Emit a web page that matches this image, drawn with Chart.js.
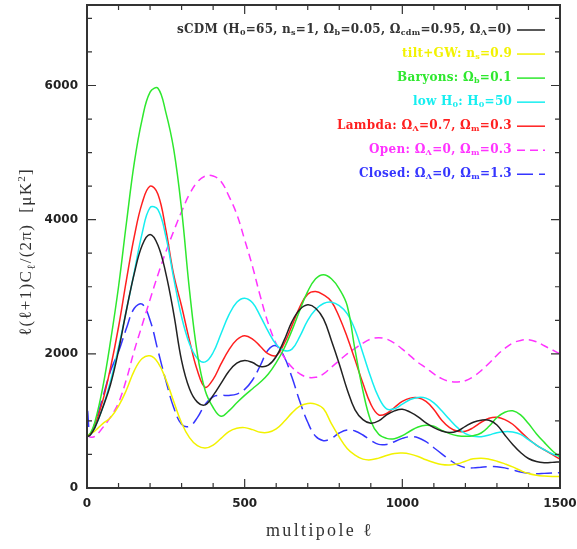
<!DOCTYPE html>
<html>
<head>
<meta charset="utf-8">
<script src="https://cdn.jsdelivr.net/npm/chart.js@4/dist/chart.umd.min.js"></script>
<style>
html, body { margin: 0; padding: 0; background: #fff; }
</style>
</head>
<body>
<canvas id="ChartCMB" width="577" height="549"></canvas>
<script>
// multipole values (x) shared by all the models
var ell = [2, 10, 25, 50, 75, 100, 125, 150, 175, 200, 225, 250, 275, 300, 325, 350, 375, 400, 425, 450,
    475, 500, 525, 550, 575, 600, 625, 650, 675, 700, 725, 750, 775, 800, 825, 850, 875, 900, 925, 950,
    975, 1000, 1025, 1050, 1075, 1100, 1125, 1150, 1175, 1200, 1225, 1250, 1275, 1300, 1325, 1350, 1375, 1400, 1425, 1450,
    1475, 1500];

// l(l+1)C_l/(2pi) in uK^2
var sCDM = [770, 790, 900, 1200, 1550, 2050, 2650, 3200, 3620, 3780, 3620, 3200, 2600, 1900, 1480, 1280, 1240, 1380, 1560, 1740,
    1860, 1900, 1870, 1810, 1830, 1960, 2200, 2480, 2660, 2730, 2680, 2520, 2200, 1850, 1470, 1165, 1020, 966, 1000, 1090,
    1150, 1175, 1130, 1060, 970, 900, 850, 826, 850, 920, 980, 1010, 1010, 940, 790, 650, 530, 440, 395, 378,
    382, 393];
var tiltGW = [770, 800, 850, 960, 1050, 1220, 1460, 1750, 1930, 1970, 1870, 1620, 1290, 970, 750, 630, 595, 640, 740, 840,
    890, 900, 870, 830, 830, 880, 990, 1120, 1220, 1260, 1250, 1180, 960, 760, 590, 490, 430, 420, 445, 485,
    515, 520, 505, 470, 420, 380, 350, 343, 360, 400, 435, 445, 430, 400, 360, 315, 260, 215, 190, 178,
    172, 170];
var baryons = [790, 810, 980, 1500, 2200, 3000, 3950, 4850, 5500, 5900, 5960, 5600, 5050, 4150, 2950, 2000, 1450, 1200, 1070, 1150,
    1270, 1380, 1480, 1580, 1700, 1870, 2080, 2350, 2650, 2930, 3120, 3180, 3120, 2970, 2720, 2060, 1450, 1000, 800, 740,
    735, 780, 850, 910, 935, 920, 860, 810, 780, 770, 780, 820, 920, 1050, 1130, 1150, 1090, 960, 810, 680,
    560, 465];
var lowH0 = [770, 790, 900, 1200, 1600, 2100, 2650, 3220, 3800, 4180, 4150, 3750, 3130, 2550, 2150, 1930, 1880, 2020, 2300, 2580,
    2770, 2830, 2760, 2560, 2330, 2140, 2050, 2070, 2260, 2500, 2660, 2750, 2770, 2720, 2600, 2360, 2010, 1650, 1350, 1180,
    1180, 1250, 1320, 1350, 1340, 1270, 1150, 1020, 900, 810, 770, 765, 790, 825, 840, 835, 800, 720, 640, 570,
    510, 467];
var lambdaModel = [770, 795, 930, 1300, 1800, 2400, 3100, 3750, 4250, 4500, 4380, 3850, 3180, 2710, 2200, 1750, 1500, 1620, 1850, 2060,
    2210, 2270, 2220, 2110, 2000, 1975, 2150, 2420, 2700, 2890, 2930, 2880, 2780, 2550, 2250, 1910, 1560, 1250, 1090, 1110,
    1200, 1290, 1340, 1345, 1290, 1170, 1010, 900, 845, 845, 900, 980, 1040, 1055, 1020, 950, 840, 730, 640, 570,
    500, 430];
var openModel = [790, 760, 770, 900, 1060, 1270, 1620, 2050, 2430, 2810, 3180, 3520, 3830, 4120, 4380, 4560, 4650, 4650, 4570, 4350,
    4080, 3700, 3300, 2850, 2450, 2150, 1950, 1800, 1700, 1650, 1650, 1700, 1800, 1900, 2000, 2080, 2160, 2220, 2240, 2220,
    2160, 2070, 1970, 1870, 1790, 1700, 1630, 1590, 1580, 1600, 1660, 1750, 1860, 1980, 2080, 2160, 2200, 2210, 2180, 2120,
    2060, 2000];
var closedModel = [1150, 800, 960, 1350, 1750, 2030, 2380, 2680, 2740, 2500, 2050, 1600, 1200, 950, 920, 1050, 1250, 1360, 1380, 1380,
    1400, 1470, 1610, 1830, 2060, 2120, 1960, 1650, 1290, 980, 770, 706, 740, 820, 865, 850, 790, 710, 650, 650,
    690, 740, 765, 750, 690, 600, 510, 420, 345, 305, 300, 310, 318, 318, 300, 270, 240, 220, 212, 218,
    225, 229];

// tick marks (every one gets an inward mark) and the ones that carry a label
var xTickMarks = [0, 100, 200, 300, 400, 500, 600, 700, 800, 900, 1000, 1100, 1200, 1300, 1400, 1500];
var yTickMarks = [0, 500, 1000, 1500, 2000, 2500, 3000, 3500, 4000, 4500, 5000, 5500, 6000, 6500, 7000];
var xTicks = [0, 500, 1000, 1500];
var yTicks = [0, 2000, 4000, 6000];

// legend rows: text pieces, a piece with sub:true is drawn as a subscript
var legendRows = [
    [{ t: 'sCDM (H' }, { t: '0', sub: true }, { t: '=65, n' }, { t: 's', sub: true }, { t: '=1, \u03A9' }, { t: 'b', sub: true },
     { t: '=0.05, \u03A9' }, { t: 'cdm', sub: true }, { t: '=0.95, \u03A9' }, { t: '\u039B', sub: true }, { t: '=0)' }],
    [{ t: 'tilt+GW: n' }, { t: 's', sub: true }, { t: '=0.9' }],
    [{ t: 'Baryons: \u03A9' }, { t: 'b', sub: true }, { t: '=0.1' }],
    [{ t: 'low H' }, { t: '0', sub: true }, { t: ': H' }, { t: '0', sub: true }, { t: '=50' }],
    [{ t: 'Lambda: \u03A9' }, { t: '\u039B', sub: true }, { t: '=0.7, \u03A9' }, { t: 'm', sub: true }, { t: '=0.3' }],
    [{ t: 'Open: \u03A9' }, { t: '\u039B', sub: true }, { t: '=0, \u03A9' }, { t: 'm', sub: true }, { t: '=0.3' }],
    [{ t: 'Closed: \u03A9' }, { t: '\u039B', sub: true }, { t: '=0, \u03A9' }, { t: 'm', sub: true }, { t: '=1.3' }]
];
var legendWidths = [335, 110, 115, 99, 175, 143, 153];

function MakePoints(values) {
    var points = [];
    var index = 0;
    while (index < ell.length) {
        points.push({ x: ell[index], y: values[index] });
        index++;
    }
    return points;
}

function MakeTicks(values) {
    var ticks = [];
    var index = 0;
    while (index < values.length) {
        ticks.push({ value: values[index] });
        index++;
    }
    return ticks;
}

function Series(values, color, dash) {
    return {
        data: MakePoints(values),
        borderColor: color,
        textColor: color,
        borderWidth: 1.5,
        borderDash: dash || [],
        pointRadius: 0,
        fill: false,
        tension: 0.4
    };
}

// draws a row of text pieces (with sub/superscripts), stretched by letter spacing to a given width
function DrawRich(ctx, pieces, x, y, align, font, smallFont, width, shift) {
    ctx.letterSpacing = '0px';
    var natural = 0, count = 0;
    pieces.forEach(function (p) {
        ctx.font = p.sub || p.sup ? smallFont : font;
        natural += ctx.measureText(p.t).width;
        count += p.t.length;
    });
    var ls = width ? (width - natural) / count : 0;
    var total = natural + ls * count;
    var cx = align === 'right' ? x - total : (align === 'center' ? x - total / 2 : x);
    ctx.letterSpacing = ls + 'px';
    ctx.textAlign = 'left';
    ctx.textBaseline = 'middle';
    pieces.forEach(function (p) {
        ctx.font = p.sub || p.sup ? smallFont : font;
        var dy = p.sub ? shift : (p.sup ? -shift : 0);
        ctx.fillText(p.t, cx, y + dy);
        cx += ctx.measureText(p.t).width;
    });
    ctx.letterSpacing = '0px';
}

var frameTicks = {
    id: 'frameTicks',
    afterDatasetsDraw: function (chart) {
        var ctx = chart.ctx, a = chart.chartArea;
        var xs = chart.scales.x, ys = chart.scales.y;
        ctx.save();
        ctx.setLineDash([]);
        ctx.strokeStyle = '#333';
        ctx.lineWidth = 1.2;
        ctx.beginPath();
        xs.ticks.forEach(function (t) {
            var px = xs.getPixelForValue(t.value);
            var len = t.value % 500 === 0 ? 9 : 5;
            ctx.moveTo(px, a.bottom); ctx.lineTo(px, a.bottom - len);
            ctx.moveTo(px, a.top); ctx.lineTo(px, a.top + len);
        });
        ys.ticks.forEach(function (t) {
            var py = ys.getPixelForValue(t.value);
            var len = t.value % 2000 === 0 ? 9 : 5;
            ctx.moveTo(a.left, py); ctx.lineTo(a.left + len, py);
            ctx.moveTo(a.right, py); ctx.lineTo(a.right - len, py);
        });
        ctx.stroke();
        ctx.lineWidth = 2;
        ctx.strokeRect(a.left, a.top, a.right - a.left, a.bottom - a.top);
        ctx.restore();
    },
    afterDraw: function (chart) {
        var ctx = chart.ctx;
        ctx.save();
        // axis titles
        ctx.fillStyle = '#333';
        DrawRich(ctx, [{ t: 'multipole \u2113' }], 320, 531, 'center', '18px "Liberation Serif"', '12px "Liberation Serif"', 108, 0);
        ctx.translate(27, 252);
        ctx.rotate(-Math.PI / 2);
        DrawRich(ctx, [{ t: '\u2113(\u2113+1)C' }, { t: '\u2113', sub: true }, { t: '/(2\u03C0)  [\u03BCK' }, { t: '2', sup: true }, { t: ']' }],
            0, 0, 'center', '17px "Liberation Serif"', '11px "Liberation Serif"', 168, 5);
        ctx.restore();

        // legend
        ctx.save();
        chart.data.datasets.forEach(function (ds, i) {
            var yc = 29.5 + i * 24.05;
            ctx.fillStyle = i === 0 ? '#333' : ds.textColor;
            DrawRich(ctx, legendRows[i], 512, yc, 'right', 'bold 12px "DejaVu Serif"', 'bold 8px "DejaVu Serif"',
                legendWidths[i], 3.5);
            ctx.strokeStyle = ds.borderColor;
            ctx.lineWidth = 1.5;
            ctx.setLineDash(ds.borderDash);
            ctx.beginPath();
            ctx.moveTo(517, yc + 0.5);
            ctx.lineTo(545, yc + 0.5);
            ctx.stroke();
        });
        ctx.restore();
    }
};

var ctx = document.getElementById('ChartCMB').getContext('2d');

var graph = new Chart(ctx, {
    type: 'line',
    data: {
        datasets: [
            Series(sCDM, '#222222'),
            Series(tiltGW, '#f2f200'),
            Series(baryons, '#2ee82e'),
            Series(lowH0, '#16eef0'),
            Series(lambdaModel, '#ff1f1f'),
            Series(openModel, '#ff33ff', [8, 5]),
            Series(closedModel, '#3535ff', [16, 6])
        ]
    },
    plugins: [frameTicks],
    options: {
        responsive: false,
        animation: false,
        devicePixelRatio: 1,
        layout: { padding: { top: 5, right: 17, left: 0, bottom: 0 } },
        plugins: {
            legend: { display: false },
            tooltip: { enabled: false }
        },
        scales: {
            x: {
                type: 'linear',
                min: 0,
                max: 1500,
                grid: { display: false },
                border: { display: false },
                afterBuildTicks: function (scale) { scale.ticks = MakeTicks(xTickMarks); },
                ticks: {
                    autoSkip: false,
                    maxRotation: 0,
                    padding: 1,
                    color: '#222',
                    font: { family: 'DejaVu Sans', size: 12, weight: 'bold' },
                    callback: function (v) { return xTicks.indexOf(v) >= 0 ? String(v) : ''; }
                },
                afterFit: function (scale) {
                    scale.height = 61;
                    scale.paddingLeft = 0;
                    scale.paddingRight = 0;
                }
            },
            y: {
                min: 0,
                max: 7200,
                grid: { display: false },
                border: { display: false },
                afterBuildTicks: function (scale) { scale.ticks = MakeTicks(yTickMarks); },
                ticks: {
                    autoSkip: false,
                    padding: 1,
                    color: '#222',
                    font: { family: 'DejaVu Sans', size: 12, weight: 'bold' },
                    callback: function (v) { return yTicks.indexOf(v) >= 0 ? String(v) : ''; }
                },
                afterFit: function (scale) {
                    scale.width = 87;
                    scale.paddingTop = 0;
                    scale.paddingBottom = 0;
                }
            }
        }
    }
});
</script>
</body>
</html>
